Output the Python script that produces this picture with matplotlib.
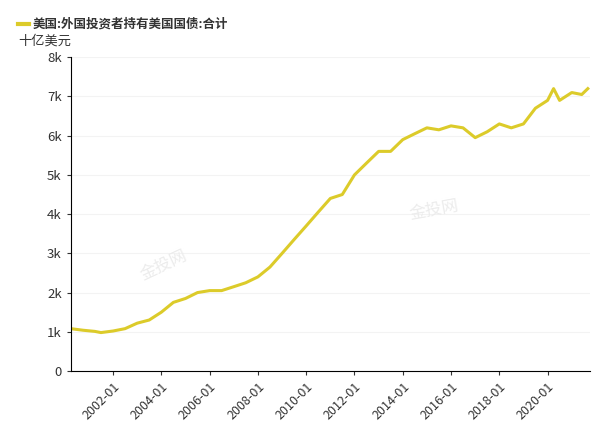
import matplotlib.pyplot as plt
import matplotlib.dates as mdates
import pandas as pd

plt.rcParams['font.family'] = ['Noto Sans CJK SC', 'DejaVu Sans']

# 外国投资者持有美国国债 (十亿美元)
dates = ['2000-04', '2000-10', '2001-04', '2001-07', '2002-01', '2002-07', '2003-01', '2003-07',
         '2004-01', '2004-07', '2005-01', '2005-07', '2006-01', '2006-07', '2007-01', '2007-07',
         '2008-01', '2008-07', '2009-01', '2009-07', '2010-01', '2010-07', '2011-01', '2011-07',
         '2012-01', '2012-07', '2013-01', '2013-07', '2014-01', '2014-07', '2015-01', '2015-07',
         '2016-01', '2016-07', '2017-01', '2017-07', '2018-01', '2018-07', '2019-01', '2019-07',
         '2020-01', '2020-04', '2020-07', '2021-01', '2021-06', '2021-09']
values = [1080, 1040, 1010, 980, 1020, 1080, 1220, 1300,
          1500, 1750, 1850, 2000, 2050, 2050, 2150, 2250,
          2400, 2650, 3000, 3350, 3700, 4050, 4400, 4500,
          5000, 5300, 5600, 5600, 5900, 6050, 6200, 6150,
          6250, 6200, 5950, 6100, 6300, 6200, 6300, 6700,
          6900, 7200, 6900, 7100, 7050, 7200]

x = pd.to_datetime(dates)

fig = plt.figure(figsize=(6, 4.37), dpi=100)
ax = fig.add_axes([0.118, 0.151, 0.865, 0.718])
ax.plot(x, values, color='#dccb2a', lw=2.2)

ax.set_ylim(0, 8000)
ax.set_yticks(range(0, 8001, 1000))
ax.set_yticklabels(['0'] + [f'{i}k' for i in range(1, 9)], fontsize=9.5)
ax.set_xlim(pd.Timestamp('2000-04-01'), pd.Timestamp('2021-10-01'))
ax.xaxis.set_major_locator(mdates.YearLocator(2, month=1))
ax.xaxis.set_major_formatter(mdates.DateFormatter('%Y-%m'))
plt.setp(ax.get_xticklabels(), rotation=45, ha='right', fontsize=9, rotation_mode='anchor')
ax.grid(axis='y', color='#f3f3f3', lw=0.8)
for s in ['top', 'right']:
    ax.spines[s].set_visible(False)
ax.tick_params(colors='#333333', length=3)

fig.add_artist(plt.Line2D([0.03, 0.048], [0.945, 0.945], color='#dccb2a', lw=3,
                          transform=fig.transFigure))
fig.text(0.055, 0.945, '美国:外国投资者持有美国国债:合计', fontsize=9, fontweight='bold',
         color='#333333', va='center')
fig.text(0.03, 0.905, '十亿美元', fontsize=9.5, color='#333333', va='center')

fig.text(0.68, 0.5, '金投网', fontsize=12, color='#ececec', rotation=10)
fig.text(0.23, 0.36, '金投网', fontsize=12, color='#ececec', rotation=25)

fig.savefig('out.png')
